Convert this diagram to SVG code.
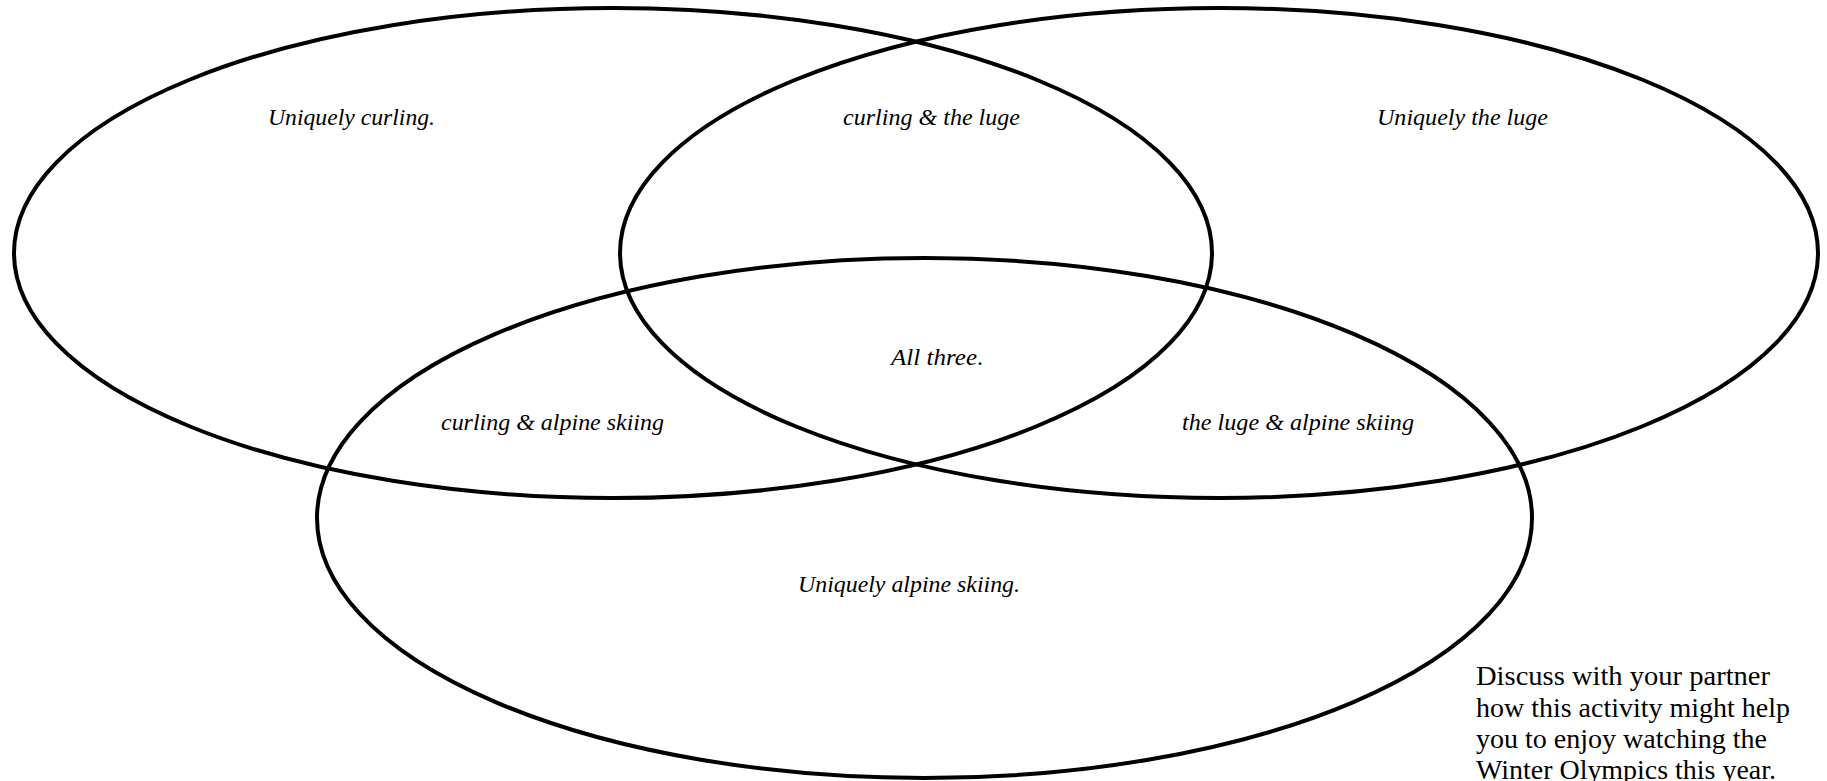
<svg xmlns="http://www.w3.org/2000/svg" width="1827" height="781" viewBox="0 0 1827 781">
<style>
.ring{fill:none;stroke:#000;stroke-width:4}
.lbl{font-family:"Liberation Serif","DejaVu Serif",serif;font-style:italic;font-size:24px;fill:#000}
.note{font-family:"Liberation Serif","DejaVu Serif",serif;font-size:27px;fill:#000}
</style>
<rect width="1827" height="781" fill="#fff"/>
<g id="connectors"></g>
<g id="set-curling"><ellipse class="ring" cx="613" cy="253" rx="599" ry="245"/></g>
<g id="set-luge"><ellipse class="ring" cx="1219" cy="253" rx="599" ry="245"/></g>
<g id="set-alpine"><ellipse class="ring" cx="924.5" cy="518" rx="607.5" ry="260"/></g>
<g id="label-curling"><text class="lbl" x="268" y="125" textLength="167" lengthAdjust="spacingAndGlyphs">Uniquely curling.</text></g>
<g id="label-curling-luge"><text class="lbl" x="843" y="125" textLength="177" lengthAdjust="spacingAndGlyphs">curling &amp; the luge</text></g>
<g id="label-luge"><text class="lbl" x="1377" y="125" textLength="171" lengthAdjust="spacingAndGlyphs">Uniquely the luge</text></g>
<g id="label-all"><text class="lbl" x="891" y="365"><tspan textLength="86" lengthAdjust="spacingAndGlyphs">All three</tspan><tspan font-style="normal">.</tspan></text></g>
<g id="label-curling-alpine"><text class="lbl" x="441" y="430" textLength="223" lengthAdjust="spacingAndGlyphs">curling &amp; alpine skiing</text></g>
<g id="label-luge-alpine"><text class="lbl" x="1182" y="430" textLength="232" lengthAdjust="spacingAndGlyphs">the luge &amp; alpine skiing</text></g>
<g id="label-alpine"><text class="lbl" x="798" y="592" textLength="222" lengthAdjust="spacingAndGlyphs">Uniquely alpine skiing.</text></g>
<g id="note">
<text class="note" x="1476" y="685" textLength="294" lengthAdjust="spacingAndGlyphs">Discuss with your partner</text>
<text class="note" x="1476" y="717" textLength="314" lengthAdjust="spacingAndGlyphs">how this activity might help</text>
<text class="note" x="1476" y="748" textLength="291" lengthAdjust="spacingAndGlyphs">you to enjoy watching the</text>
<text class="note" x="1476" y="779" textLength="300" lengthAdjust="spacingAndGlyphs">Winter Olympics this year.</text>
</g>
</svg>
